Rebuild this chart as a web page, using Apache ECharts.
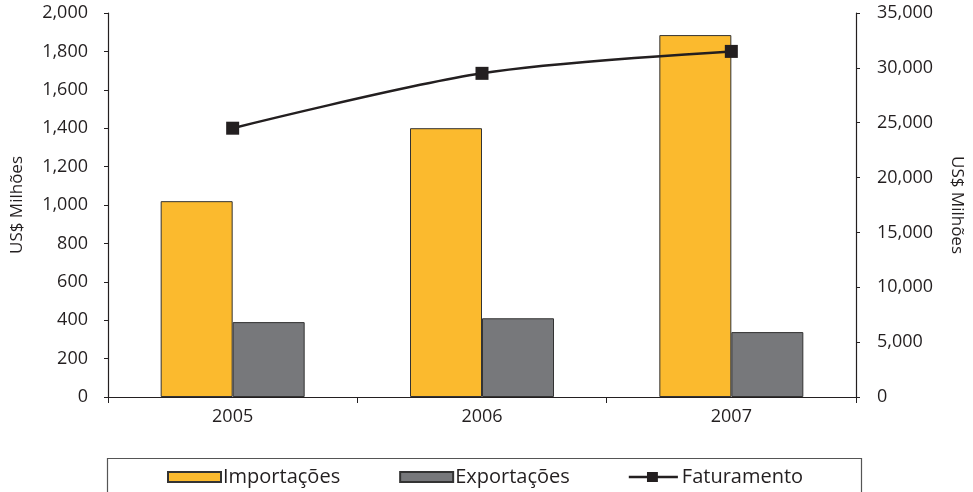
<!DOCTYPE html>
<html>
<head>
<meta charset="utf-8">
<script src="https://cdn.jsdelivr.net/npm/echarts@6/dist/echarts.min.js"></script>
<style>
html,body{margin:0;padding:0;background:#fff;}
#chart{width:973px;height:492px;}
</style>
</head>
<body>
<div id="chart"></div>
<script>
const categories = ['2005', '2006', '2007'];
const importacoes = [1020, 1400, 1885];
const exportacoes = [390, 410, 338];
const faturamento = [24500, 29500, 31500];
const leftTicks = {min: 0, max: 2000, interval: 200};
const rightTicks = {min: 0, max: 35000, interval: 5000};
const axisName = 'US$ Milhões';

const FONT = '"Open Sans", "Noto Sans", sans-serif';
const chart = echarts.init(document.getElementById('chart'));
const fmt = v => v.toLocaleString('en-US');
const axisLine = {show: true, lineStyle: {color: '#231F20', width: 1.2}};
const lineIcon = 'path://M0,4 L20,4 L20,0 L32,0 L32,4 L54,4 L54,7 L32,7 L32,11 L20,11 L20,7 L0,7 Z';
chart.setOption({
  animation: false,
  textStyle: {fontFamily: FONT},
  grid: {left: 108, right: 115, top: 13, bottom: 95},
  legend: {
    left: 162, top: 462,
    itemWidth: 53, itemHeight: 10, itemGap: 59,
    textStyle: {fontSize: 20, color: '#231F20', fontFamily: FONT, padding: [0, 0, 0, -3]},
    data: [
      {name: 'Importações', icon: 'rect'},
      {name: 'Exportações', icon: 'rect'},
      {name: 'Faturamento', icon: lineIcon}
    ]
  },
  graphic: [{
    type: 'rect', left: 105, top: 456,
    shape: {width: 754, height: 50},
    style: {fill: 'none', stroke: '#555', lineWidth: 1.2}
  }],
  xAxis: {
    type: 'category', data: categories,
    axisLine: axisLine,
    axisTick: {show: true, length: 6, lineStyle: {color: '#231F20'}},
    axisLabel: {fontSize: 18, color: '#231F20', margin: 11, fontFamily: FONT}
  },
  yAxis: [{
    type: 'value', position: 'left',
    min: leftTicks.min, max: leftTicks.max, interval: leftTicks.interval,
    name: axisName, nameLocation: 'middle', nameGap: 82, nameRotate: 90,
    nameTextStyle: {fontSize: 17, color: '#231F20', fontFamily: FONT},
    axisLine: axisLine,
    axisTick: {show: true, length: 4, lineStyle: {color: '#231F20'}},
    splitLine: {show: false},
    axisLabel: {fontSize: 18, color: '#231F20', margin: 20, formatter: fmt, fontFamily: FONT}
  }, {
    type: 'value', position: 'right',
    min: rightTicks.min, max: rightTicks.max, interval: rightTicks.interval,
    name: axisName, nameLocation: 'middle', nameGap: 92, nameRotate: -90,
    nameTextStyle: {fontSize: 17, color: '#231F20', fontFamily: FONT},
    axisLine: axisLine,
    axisTick: {show: true, length: 4, lineStyle: {color: '#231F20'}},
    splitLine: {show: false},
    axisLabel: {fontSize: 18, color: '#231F20', margin: 21, formatter: fmt, fontFamily: FONT}
  }],
  series: [{
    name: 'Importações', type: 'bar', data: importacoes,
    barWidth: 72, barGap: '0%',
    itemStyle: {color: '#FBBA2E', borderColor: '#333', borderWidth: 1}
  }, {
    name: 'Exportações', type: 'bar', data: exportacoes,
    barWidth: 72, barGap: '0%',
    itemStyle: {color: '#77787B', borderColor: '#333', borderWidth: 1}
  }, {
    name: 'Faturamento', type: 'line', yAxisIndex: 1, data: faturamento,
    smooth: 0.3, symbol: 'rect', symbolSize: 13,
    lineStyle: {color: '#231F20', width: 2.5},
    itemStyle: {color: '#231F20'}
  }]
});
</script>
</body>
</html>
